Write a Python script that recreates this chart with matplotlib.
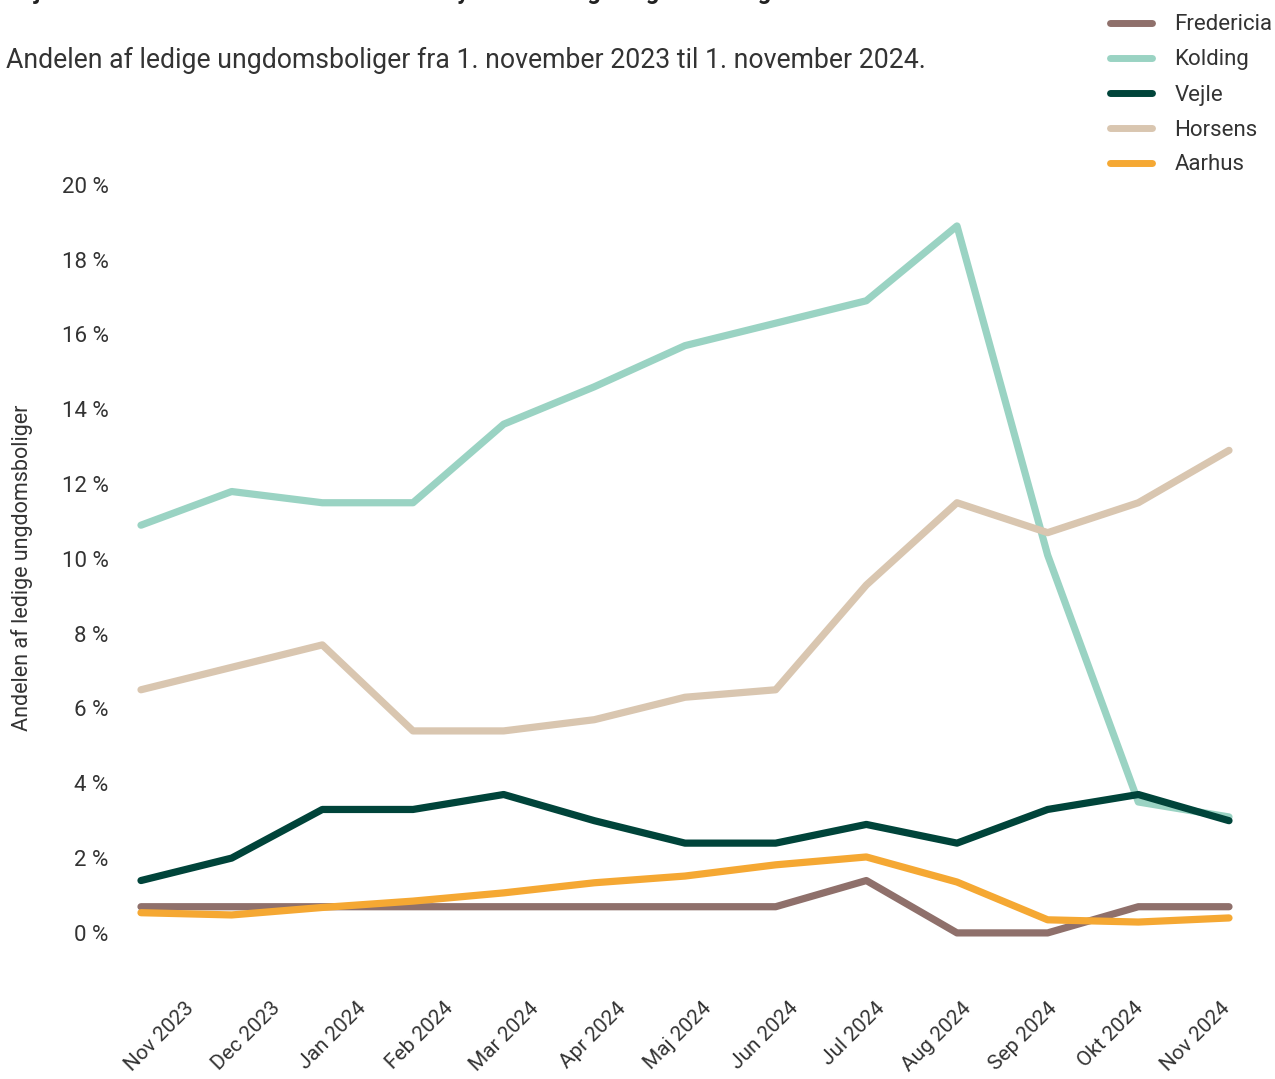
import matplotlib.pyplot as plt
from matplotlib.transforms import ScaledTranslation

plt.rcParams['font.family'] = ['Roboto', 'DejaVu Sans']

months = ["Nov 2023", "Dec 2023", "Jan 2024", "Feb 2024", "Mar 2024", "Apr 2024",
          "Maj 2024", "Jun 2024", "Jul 2024", "Aug 2024", "Sep 2024", "Okt 2024",
          "Nov 2024"]

fredericia = [0.7, 0.7, 0.7, 0.7, 0.7, 0.7, 0.7, 0.7, 1.4, 0.0, 0.0, 0.7, 0.7]
kolding = [10.9, 11.8, 11.5, 11.5, 13.6, 14.6, 15.7, 16.3, 16.9, 18.9, 10.1, 3.5, 3.1]
vejle = [1.4, 2.0, 3.3, 3.3, 3.7, 3.0, 2.4, 2.4, 2.9, 2.4, 3.3, 3.7, 3.0]
horsens = [6.5, 7.1, 7.7, 5.4, 5.4, 5.7, 6.3, 6.5, 9.3, 11.5, 10.7, 11.5, 12.9]
aarhus = [0.54, 0.48, 0.68, 0.85, 1.07, 1.34, 1.52, 1.82, 2.03, 1.36, 0.35, 0.29, 0.4]

series = [
    ("Fredericia", fredericia, "#8f706b"),
    ("Kolding", kolding, "#9ad3c3"),
    ("Vejle", vejle, "#00443a"),
    ("Horsens", horsens, "#d9c6b0"),
    ("Aarhus", aarhus, "#f5a833"),
]

yticks = list(range(0, 21, 2))

fig = plt.figure(figsize=(12.75, 10.79), dpi=100)
ax = fig.add_axes([0.0928, 0.0834, 0.8889, 0.780])

x = list(range(len(months)))
for name, vals, color in series:
    ax.plot(x, vals, color=color, linewidth=5.2, label=name, solid_capstyle='round')

ax.set_xlim(-0.25, 12.25)
ax.set_ylim(-1.5, 21)
ax.set_yticks(yticks)
ax.set_yticklabels([f"{v} %" for v in yticks], fontsize=16, color="#333333")
ax.set_xticks(x)
ax.set_xticklabels(months, rotation=45, ha='right', va='top', rotation_mode='anchor',
                   fontsize=15, color="#333333")
ax.tick_params(axis='y', length=0, pad=7)
ax.tick_params(axis='x', length=0, pad=7)
# the month labels in the original sit on a slightly narrower band than the
# points: the first is pushed right of its point, the last sits under its point
n = len(months)
for i, lbl in enumerate(ax.get_xticklabels()):
    dx = (52 * (1 - i / (n - 1)) - 9) / 100
    lbl.set_transform(lbl.get_transform() + ScaledTranslation(dx, 0, fig.dpi_scale_trans))
for s in ax.spines.values():
    s.set_visible(False)

ax.set_ylabel("Andelen af ledige ungdomsboliger", fontsize=15.5, color="#333333")
ax.yaxis.set_label_coords(-0.075, 0.50)

# title is cut off by the top edge in the original
fig.text(0.005, 1.0 + 1 / 1079, "Vejle Kommune har det laveste af de fire byer med ledige ungdomsboliger.",
         fontsize=17, fontweight='bold', color="#222222", va='baseline', ha='left')
fig.text(0.005, 1 - 60 / 1079, "Andelen af ledige ungdomsboliger fra 1. november 2023 til 1. november 2024.",
         fontsize=19.2, color="#333333", va='center', ha='left')

leg = fig.legend(loc='upper left', bbox_to_anchor=(1090 / 1275, 1 + 5.5 / 1079),
                 frameon=False, fontsize=16, handlelength=1.9, handletextpad=1.0,
                 labelspacing=0.63, labelcolor="#333333")
for line in leg.get_lines():
    line.set_linewidth(5)

fig.savefig("out.png", dpi=100)
